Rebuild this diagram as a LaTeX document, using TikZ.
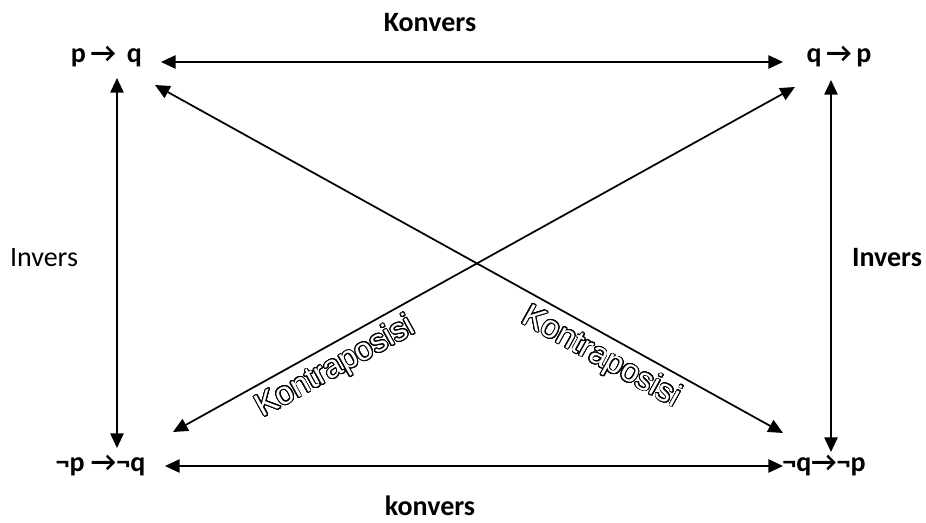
\documentclass[tikz,border=0pt]{standalone}
\usepackage{fontspec}
\setmainfont{Carlito}
\newfontfamily\kfont{Liberation Sans}
\usepackage{contour}
\contourlength{0.65pt}
\contournumber{32}
\usetikzlibrary{arrows.meta}
\begin{document}
\begin{tikzpicture}[x=0.75pt,y=-0.75pt,
  lbl/.style={inner sep=0pt, anchor=base, font=\fontsize{21pt}{24pt}\selectfont\bfseries},
  plainlbl/.style={inner sep=0pt, anchor=base, font=\fontsize{21pt}{24pt}\selectfont},
  kontra/.style={inner sep=0pt, text=white, font=\kfont\fontsize{24pt}{27pt}\selectfont},
  link/.style={line width=1.3pt, {Triangle[length=11pt,width=10pt]}-{Triangle[length=11pt,width=10pt]}}
]
\useasboundingbox (0,0) rectangle (926,523);

% statements at the four corners
\node[lbl] (pq)   at (106.5,63) {p\,→\, q};
\node[lbl] (qp)   at (839,63)   {q\,→\,p};
\node[lbl] (npnq) at (100.5,472) {¬p →¬q};
\node[lbl] (nqnp) at (824,472)  {¬q→¬p};

% relation names
\node[lbl] (konvTop) at (430,32) {Konvers};
\node[lbl] (konvBot) at (430,516) {konvers};
\node[plainlbl] (invL) at (44,267) {Invers};
\node[lbl] (invR) at (887,267) {Invers};

% arrow end points next to each statement
\coordinate (pqE)   at (161,62);
\coordinate (qpW)   at (783,62);
\coordinate (pqS)   at (117,78);
\coordinate (npnqN) at (117,448);
\coordinate (qpS)   at (831,80);
\coordinate (nqnpN) at (831,452);
\coordinate (npnqE) at (165,466);
\coordinate (nqnpW) at (783,466);
\coordinate (pqSE)  at (155,85);
\coordinate (nqnpNW) at (783,433);
\coordinate (npnqNE) at (173,432);
\coordinate (qpSW)  at (795,87);

\draw[link] (pqE) -- (qpW);
\draw[link] (npnqE) -- (nqnpW);
\draw[link] (pqS) -- (npnqN);
\draw[link] (qpS) -- (nqnpN);
\draw[link] (pqSE) -- (nqnpNW);
\draw[link] (npnqNE) -- (qpSW);

% outlined labels along the diagonals
\node[kontra, rotate=29]  (kL) at (336,368) {\contour{black}{Kontraposisi}};
\node[kontra, rotate=-29] (kR) at (601,358) {\contour{black}{Kontraposisi}};
\end{tikzpicture}
\end{document}
